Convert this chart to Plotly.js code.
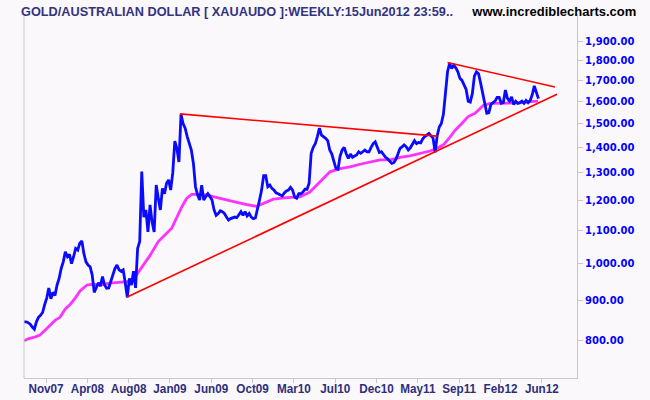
<!DOCTYPE html>
<html><head><meta charset="utf-8">
<script src="https://cdn.plot.ly/plotly-3.0.1.min.js"></script>
<style>html,body{margin:0;padding:0;background:#faf8fa}</style>
</head><body><div id="chart" style="width:650px;height:400px"></div>
<script>
// Weekly closes, Gold in AUD (week index 0 = first bar, mid-Sep 2007; last = 15 Jun 2012)
const closes = [
845,845,843,839,832,827,845,856,861,868,
888,905,932,903,920,912,940,958,986,1005,
1035,1020,1027,1000,1020,1045,1040,1061,1068,1029,
1005,996,991,968,920,932,946,937,963,940,
931,932,950,972,986,996,982,978,982,946,
907,958,940,978,932,1045,1066,1305,1144,1168,
1096,1185,1128,1096,1255,1208,1168,1243,1224,1262,
1274,1237,1300,1425,1396,1342,1540,1500,1480,1444,
1415,1389,1336,1249,1220,1202,1255,1202,1214,1224,
1214,1202,1168,1150,1156,1165,1162,1156,1144,1134,
1139,1142,1144,1142,1154,1162,1150,1162,1148,1156,
1144,1139,1141,1168,1202,1237,1290,1290,1249,1255,
1243,1237,1227,1224,1220,1216,1227,1234,1237,1247,
1237,1212,1208,1224,1224,1230,1240,1240,1262,1376,
1400,1415,1444,1480,1450,1444,1437,1427,1389,1373,
1342,1316,1314,1365,1389,1400,1373,1356,1373,1360,
1365,1369,1382,1376,1382,1389,1382,1382,1400,1415,
1422,1402,1379,1382,1369,1360,1354,1344,1336,1339,
1352,1373,1396,1402,1410,1402,1389,1398,1410,1427,
1415,1420,1418,1435,1444,1452,1457,1447,1438,1380,
1448,1485,1500,1540,1650,1742,1785,1758,1775,1762,
1742,1709,1699,1677,1655,1600,1596,1635,1720,1742,
1732,1687,1640,1585,1545,1548,1585,1593,1600,1617,
1617,1590,1593,1652,1613,1600,1620,1585,1600,1590,
1593,1600,1590,1603,1593,1603,1630,1672,1640,1612
];
const weeks = closes.map((v, i) => i);

// Moving average (magenta) at sample weeks
const maWeeks  = [0,2.3,5.5,7.7,10.3,12.7,15.1,17.4,20,22.4,24.8,27.1,30.5,33.5,36.8,41.6,47.4,49.9,52.8,56.1,61,65,68.2,71.5,73.9,76.3,78.8,81.2,83.6,88.4,94.9,101.3,107.8,112.6,115.8,120.7,127.2,133.6,138.4,143.3,148.1,153,157.8,162.6,167.5,172.3,177.2,182,186.8,191.7,196.5,199.8,203,206.2,208.6,211.9,215,218.3,222.3,225.6,230.4,235.2,240,244.9,248.8];
const maValues = [800,805,809,813,825,837,849,856,877,889,905,924,940,942,940,945,949,949,954,982,1024,1066,1086,1108,1142,1177,1208,1222,1222,1220,1208,1196,1186,1180,1190,1205,1210,1213,1230,1267,1304,1316,1323,1333,1341,1350,1350,1360,1366,1375,1385,1395,1410,1442,1470,1500,1530,1545,1580,1590,1590,1590,1592,1598,1600];

// Trend lines (red): [week, value] end points
const lowerTrendWeeks = [49.7, 258];
const lowerTrendVals  = [907, 1632];
const upperLeftWeeks  = [75.5, 199.9];
const upperLeftVals   = [1542, 1446];
const upperRightWeeks = [205, 257];
const upperRightVals  = [1789, 1667];

// Axis ticks
const xTickLabels = ['Nov07','Apr08','Aug08','Jan09','Jun09','Oct09','Mar10','Jul10','Dec10','May11','Sep11','Feb12','Jun12'];
const xTickFirstWeek = 10.65, xTickStepWeeks = 20;
const yTickValues = [800,900,1000,1100,1200,1300,1400,1500,1600,1700,1800,1900];

const titleText = 'GOLD/AUSTRALIAN DOLLAR [ XAUAUDO ]:WEEKLY:15Jun2012 23:59..';
const siteText = 'www.incrediblecharts.com';

const traces = [
  {x: maWeeks, y: maValues, mode:'lines', line:{color:'#ff33ff', width:2.8}, hoverinfo:'skip'},
  {x: weeks, y: closes, mode:'lines', line:{color:'#0a0aff', width:2.8}, hoverinfo:'skip'},
  {x: lowerTrendWeeks, y: lowerTrendVals, mode:'lines', line:{color:'#ff0000', width:1.6}, hoverinfo:'skip'},
  {x: upperLeftWeeks, y: upperLeftVals, mode:'lines', line:{color:'#ff0000', width:1.6}, hoverinfo:'skip'},
  {x: upperRightWeeks, y: upperRightVals, mode:'lines', line:{color:'#ff0000', width:1.6}, hoverinfo:'skip'}
];

const fam = 'Liberation Sans, Arial, sans-serif';
const layout = {
  width:650, height:400,
  margin:{l:24, r:73, t:14, b:22},
  paper_bgcolor:'#faf8fa', plot_bgcolor:'#faf8fa',
  showlegend:false,
  title:{text:titleText, x:21/650, xanchor:'left', xref:'container', y:1-11/400, yanchor:'middle', yref:'container',
         font:{family:fam, size:13.5, color:'#33337f', weight:'bold'}},
  annotations:[{text:siteText, xref:'paper', yref:'paper', x:(466-24)/553, xanchor:'left', y:(378-11)/364, yanchor:'middle', showarrow:false,
         font:{family:fam, size:13.5, color:'#000000', weight:'bold'}}],
  xaxis:{range:[0, 553/2.066], showline:true, linecolor:'#c8c8c8', linewidth:1, ticks:'outside', ticklen:4, tickcolor:'#c8c8c8',
         tickvals: xTickLabels.map((t,k)=>xTickFirstWeek + k*xTickStepWeeks), ticktext: xTickLabels,
         ticklabelstandoff:-6,
         tickfont:{family:fam, size:13, color:'#2e2e7a', weight:'bold'},
         showgrid:false, zeroline:false, fixedrange:true},
  yaxis:{type:'log', range:[2.85623, 3.31363], side:'right', showline:true, linecolor:'#c8c8c8', linewidth:1,
         ticks:'outside', ticklen:5, tickcolor:'#c8c8c8', tickvals:yTickValues, tickformat:',.2f',
         tickfont:{family:'DejaVu Sans', size:10, color:'#0000ff', weight:'bold'},
         showgrid:false, zeroline:false, fixedrange:true},
  shapes:[{type:'line', xref:'paper', yref:'paper', x0:0, x1:0, y0:0, y1:1, line:{color:'#c8c8c8', width:1}}]
};

function squeeze(sel, target, factor) {
  document.querySelectorAll(sel).forEach(t => {
    const L = t.getComputedTextLength();
    const want = target ? target : L * factor;
    t.setAttribute('textLength', want);
    t.setAttribute('lengthAdjust', 'spacingAndGlyphs');
  });
}
Plotly.newPlot('chart', traces, layout, {displayModeBar:false, staticPlot:true}).then(() => {
  squeeze('.gtitle', 432);
  squeeze('.annotation-text', 164);
  squeeze('.xtick text', 0, 0.9);
});
</script>
</body></html>
